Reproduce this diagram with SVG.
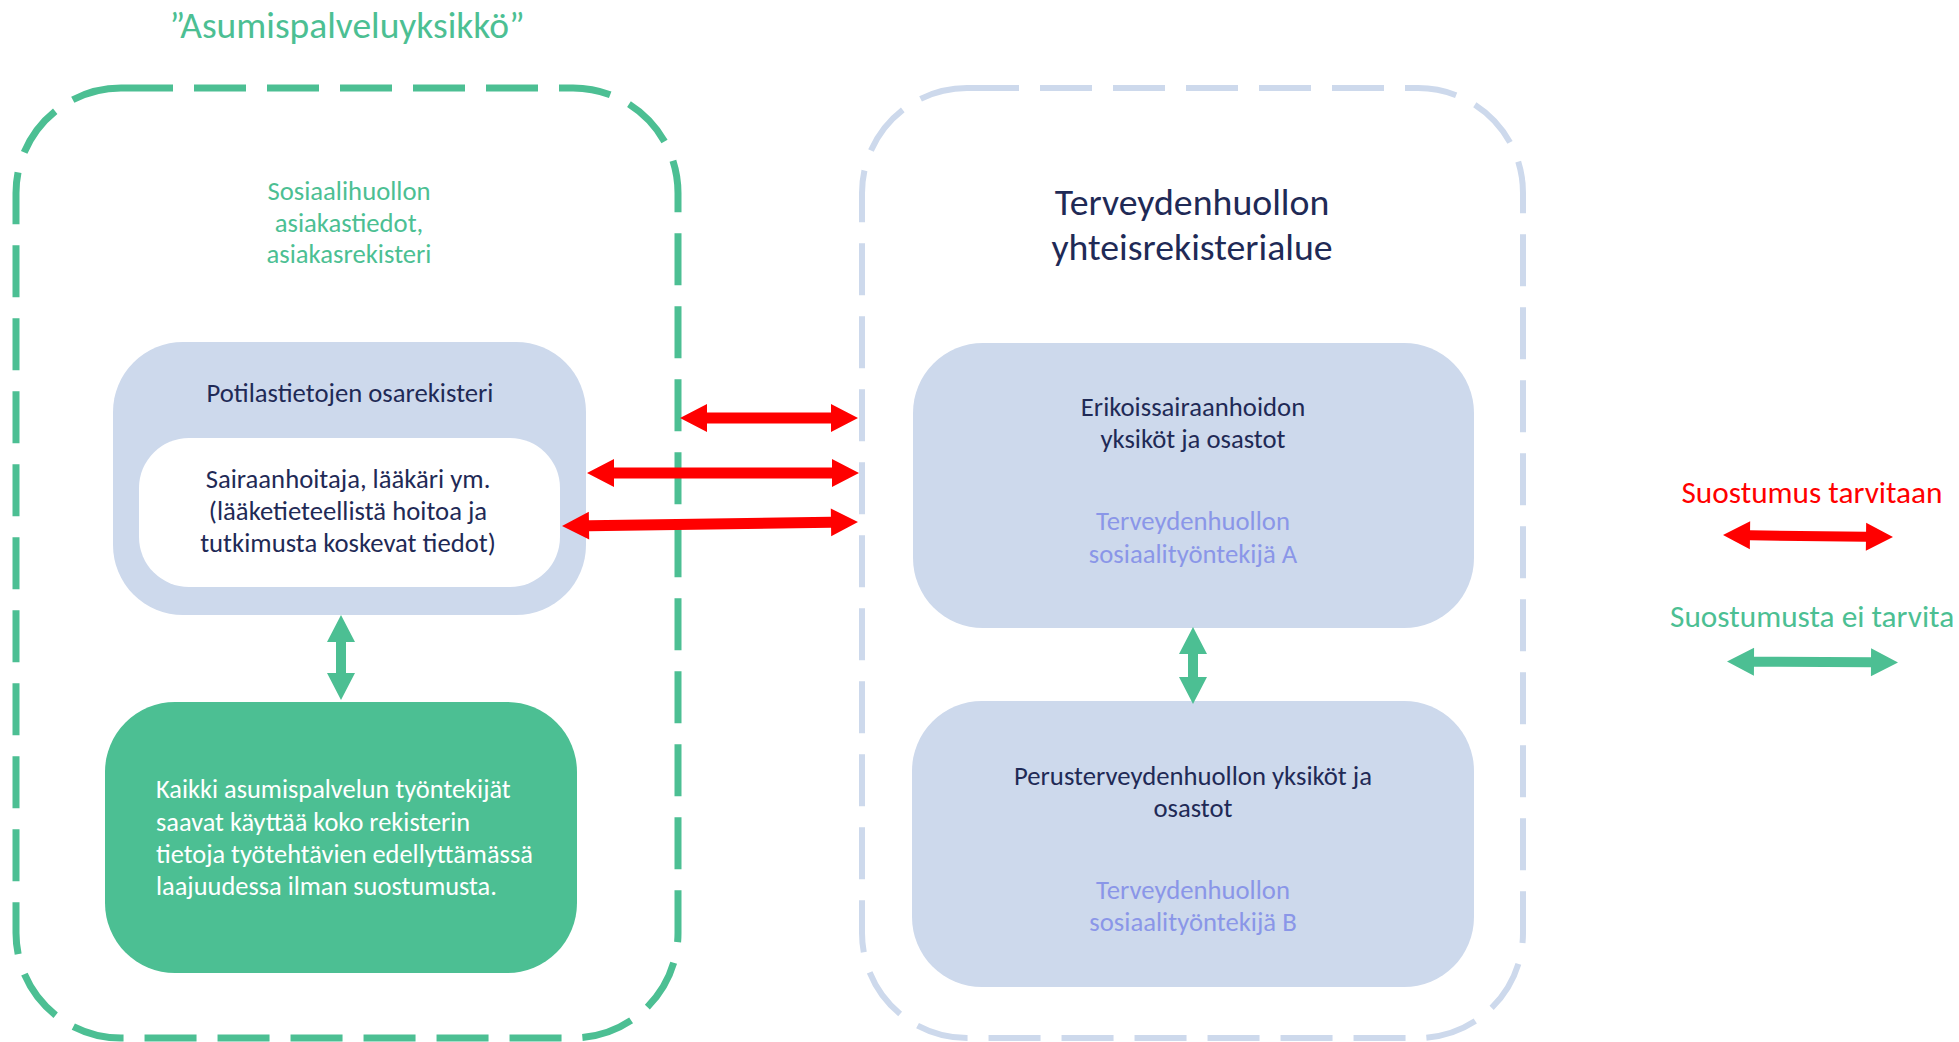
<svg xmlns="http://www.w3.org/2000/svg" width="1959" height="1042" viewBox="0 0 1959 1042">
  <style>
    text { font-family: Carlito, Lato, "Liberation Sans", sans-serif; }
    .cont-g { fill: none; stroke: #4CBF93; stroke-width: 7; stroke-dasharray: 52 21; }
    .cont-b { fill: none; stroke: #CDD9EC; stroke-width: 6; stroke-dasharray: 52 21; }
    .box { fill: #CDD9EC; }
    .white { fill: #FFFFFF; }
    .gbox { fill: #4CBF93; }
    .t { font-size: 26.7px; fill: #1F2A56; text-anchor: middle; }
    .tg { font-size: 26.7px; fill: #4CBF93; text-anchor: middle; }
    .tp { font-size: 26.7px; fill: #8A96E8; text-anchor: middle; }
    .tw { font-size: 26.4px; fill: #FFFFFF; font-weight: 300; }
    .big { font-size: 37.8px; fill: #1F2A56; text-anchor: middle; }
    .red { fill: #FF0000; }
    .grn { fill: #4CBF93; }
    .leg { font-size: 31.3px; font-weight: 300; }
  </style>

  <g id="title-asumispalveluyksikko">
    <text x="347" y="38" style="font-size:37.5px; fill:#4CBF93; text-anchor:middle">”Asumispalveluyksikkö”</text>
  </g>

  <g id="container-asumispalvelu">
    <rect class="cont-g" x="16" y="88" width="662" height="950" rx="105" ry="105"/>
    <text class="tg" x="349" y="200">Sosiaalihuollon</text>
    <text class="tg" x="349" y="232">asiakastiedot,</text>
    <text class="tg" x="349" y="263">asiakasrekisteri</text>
  </g>

  <g id="container-terveydenhuolto">
    <rect class="cont-b" x="862" y="88" width="661" height="950" rx="105" ry="105"/>
    <text class="big" x="1192" y="215">Terveydenhuollon</text>
    <text class="big" x="1192" y="260">yhteisrekisterialue</text>
  </g>

  <g id="node-potilastietojen-osarekisteri">
    <rect class="box" x="113" y="342" width="473" height="273" rx="70" ry="70"/>
    <text class="t" x="350" y="402">Potilastietojen osarekisteri</text>
  </g>

  <g id="node-sairaanhoitaja">
    <rect class="white" x="139" y="438" width="421" height="149" rx="50" ry="50"/>
    <text class="t" x="348" y="488">Sairaanhoitaja, lääkäri ym.</text>
    <text class="t" x="348" y="520">(lääketieteellistä hoitoa ja</text>
    <text class="t" x="348" y="552">tutkimusta koskevat tiedot)</text>
  </g>

  <g id="node-asumispalvelun-tyontekijat">
    <rect class="gbox" x="105" y="702" width="472" height="271" rx="70" ry="70"/>
    <text class="tw" x="156" y="798">Kaikki asumispalvelun työntekijät</text>
    <text class="tw" x="156" y="831">saavat käyttää koko rekisterin</text>
    <text class="tw" x="156" y="863">tietoja työtehtävien edellyttämässä</text>
    <text class="tw" x="156" y="895">laajuudessa ilman suostumusta.</text>
  </g>

  <g id="node-erikoissairaanhoito">
    <rect class="box" x="913" y="343" width="561" height="285" rx="70" ry="70"/>
    <text class="t" x="1193" y="416">Erikoissairaanhoidon</text>
    <text class="t" x="1193" y="448">yksiköt ja osastot</text>
    <text class="tp" x="1193" y="530">Terveydenhuollon</text>
    <text class="tp" x="1193" y="563">sosiaalityöntekijä A</text>
  </g>

  <g id="node-perusterveydenhuolto">
    <rect class="box" x="912" y="701" width="562" height="286" rx="70" ry="70"/>
    <text class="t" x="1193" y="785">Perusterveydenhuollon yksiköt ja</text>
    <text class="t" x="1193" y="817">osastot</text>
    <text class="tp" x="1193" y="899">Terveydenhuollon</text>
    <text class="tp" x="1193" y="931">sosiaalityöntekijä B</text>
  </g>

  <g id="connectors">
    <!-- red: consent required -->
    <polygon class="red" points="680,418 707,404 707,412.5 831,412.5 831,404 858,418 831,432 831,423.5 707,423.5 707,432"/>
    <polygon class="red" points="587,473 614,459 614,467.5 832,467.5 832,459 859,473 832,487 832,478.5 614,478.5 614,487"/>
    <polygon class="red" transform="rotate(-0.77 710 524)" points="562,524 589,510 589,518.5 831,518.5 831,510 858,524 831,538 831,529.5 589,529.5 589,538"/>
    <!-- green: no consent needed -->
    <polygon class="grn" points="341,615 355,642 346,642 346,673 355,673 341,700 327,673 336,673 336,642 327,642"/>
    <polygon class="grn" points="1193,627 1207,654 1198,654 1198,677 1207,677 1193,704 1179,677 1188,677 1188,654 1179,654"/>
  </g>

  <g id="legend">
    <text class="leg" x="1812" y="503" style="fill:#FF0000; text-anchor:middle">Suostumus tarvitaan</text>
    <polygon class="red" transform="rotate(0.67 1808 536)" points="1723,536 1750,522 1750,531 1866,531 1866,522 1893,536 1866,550 1866,541 1750,541 1750,550"/>
    <text class="leg" x="1670" y="627" style="fill:#4CBF93">Suostumusta ei tarvita</text>
    <polygon class="grn" transform="rotate(0.33 1812 662)" points="1727,662 1754,648 1754,657 1871,657 1871,648 1898,662 1871,676 1871,667 1754,667 1754,676"/>
  </g>
</svg>
